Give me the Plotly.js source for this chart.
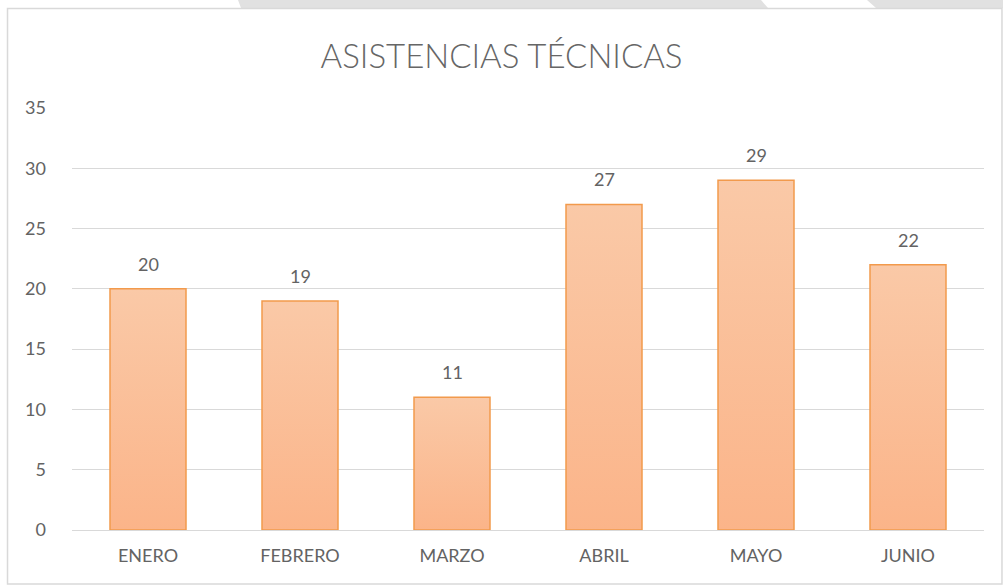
<!DOCTYPE html>
<html>
<head>
<meta charset="utf-8">
<script src="https://cdn.plot.ly/plotly-3.0.1.min.js"></script>
<style>
html,body{margin:0;padding:0;background:#fff;}
#chart{width:1003px;height:585px;}
</style>
</head>
<body>
<div id="chart"></div>
<script>
const categories = ["ENERO", "FEBRERO", "MARZO", "ABRIL", "MAYO", "JUNIO"];
const values = [20, 19, 11, 27, 29, 22];
const chartTitle = "ASISTENCIAS TÉCNICAS";
const yTicks = [0, 5, 10, 15, 20, 25, 30, 35];

const textColor = "#636363";
const fontFam = "Lato, 'Open Sans', sans-serif";

const trace = {
  type: "bar",
  x: categories,
  y: values,
  width: 0.5,
  marker: {color: "#fabe98", line: {color: "#f29a4c", width: 1.5}},
  hoverinfo: "none"
};

const annotations = categories.map((c, i) => ({
  x: c, y: values[i], xref: "x", yref: "y",
  text: String(values[i]), showarrow: false,
  yanchor: "middle", yshift: 25,
  font: {family: fontFam, size: 18, color: textColor}
}));

const layout = {
  width: 1003, height: 585,
  margin: {l: 72, r: 19, t: 108, b: 55},
  paper_bgcolor: "#ffffff",
  plot_bgcolor: "#ffffff",
  showlegend: false,
  title: {
    text: chartTitle,
    font: {family: fontFam, size: 33, color: "#666666", weight: 300},
    x: 0.5, xanchor: "center", y: 1 - 56/585, yanchor: "middle"
  },
  xaxis: {
    type: "category",
    showgrid: false, showline: false, zeroline: false,
    ticks: "", ticklabelstandoff: 13,
    tickfont: {family: fontFam, size: 18, color: textColor},
    fixedrange: true
  },
  yaxis: {
    range: [0, 35],
    tickvals: yTicks,
    showgrid: true, gridcolor: "#d9d9d9", gridwidth: 1,
    zeroline: true, zerolinecolor: "#d9d9d9", zerolinewidth: 1,
    showline: false, ticks: "", ticklabelstandoff: 25,
    tickfont: {family: fontFam, size: 18, color: textColor},
    fixedrange: true
  },
  annotations: annotations,
  shapes: [
    {type: "path", xref: "paper", yref: "paper", layer: "below",
     path: "M 0.1820 1.2559 L 0.7555 1.2559 L 0.7632 1.2370 L 0.1853 1.2370 Z",
     fillcolor: "#e1e1e1", line: {width: 0}},
    {type: "path", xref: "paper", yref: "paper", layer: "below",
     path: "M 0.8717 1.2559 L 1.0300 1.2559 L 1.0300 1.2370 L 0.8816 1.2370 Z",
     fillcolor: "#e1e1e1", line: {width: 0}},
    {type: "rect", xref: "paper", yref: "paper", layer: "below",
     x0: -0.0707, x1: 1.0197, y0: -0.1280, y1: 1.2358,
     fillcolor: "rgba(0,0,0,0)", line: {color: "#d9d9d9", width: 1.5}}
  ]
};

Plotly.newPlot("chart", [trace], layout, {displayModeBar: false, staticPlot: true}).then(gd => {
  const svg = gd.querySelector(".main-svg");
  const ns = "http://www.w3.org/2000/svg";
  let defs = svg.querySelector("defs");
  if (!defs) { defs = document.createElementNS(ns, "defs"); svg.insertBefore(defs, svg.firstChild); }
  const grad = document.createElementNS(ns, "linearGradient");
  grad.setAttribute("id", "barGrad");
  grad.setAttribute("x1", "0"); grad.setAttribute("y1", "0");
  grad.setAttribute("x2", "0"); grad.setAttribute("y2", "1");
  [["0", "#fac9a7"], ["1", "#fbb489"]].forEach(([o, c]) => {
    const s = document.createElementNS(ns, "stop");
    s.setAttribute("offset", o); s.setAttribute("stop-color", c);
    grad.appendChild(s);
  });
  defs.appendChild(grad);
  gd.querySelectorAll(".trace.bars .point path").forEach(p => {
    p.style.fill = "url(#barGrad)";
  });
});
</script>
</body>
</html>
